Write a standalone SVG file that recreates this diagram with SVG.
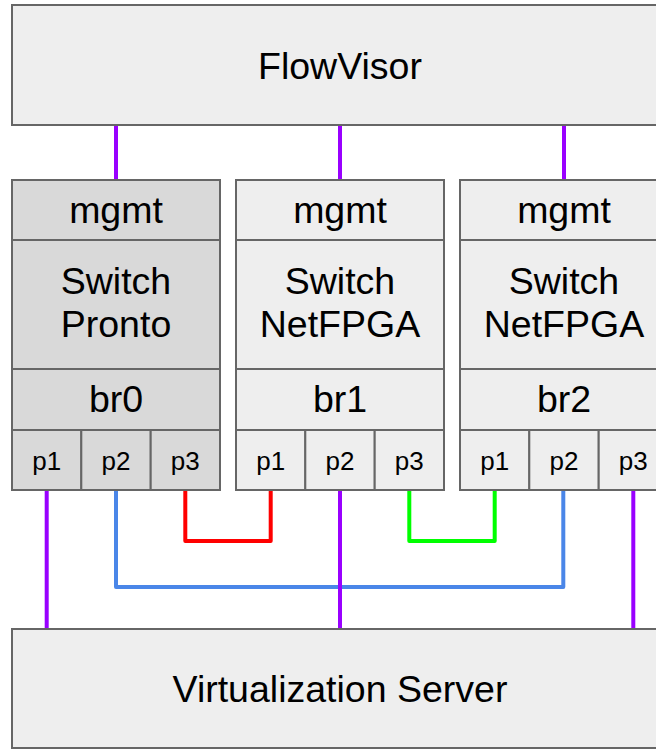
<svg xmlns="http://www.w3.org/2000/svg" width="656" height="749" viewBox="0 0 656 749">
<style>
.box{stroke:#666;stroke-width:2}
.light{fill:#eeeeee}
.dark{fill:#d9d9d9}
.big{font-family:"Liberation Sans",Arial,sans-serif;font-size:37.5px;fill:#000;text-anchor:middle}
.small{font-family:"Liberation Sans",Arial,sans-serif;font-size:26px;fill:#000;text-anchor:middle}
.ln{fill:none;stroke-width:4;stroke-linejoin:round;stroke-linecap:butt}
.purple{stroke:#9900ff}
.blue{stroke:#4a86e8}
.red{stroke:#ff0000}
.green{stroke:#00ff00}
</style>
<rect width="656" height="749" fill="#ffffff"/>
<g id="connectors">
<line class="ln purple" x1="116" y1="125" x2="116" y2="180"/>
<line class="ln purple" x1="340" y1="125" x2="340" y2="180"/>
<line class="ln purple" x1="564" y1="125" x2="564" y2="180"/>
<line class="ln purple" x1="46.7" y1="490" x2="46.7" y2="629"/>
<polyline class="ln blue" points="116,490 116,587 563.3,587 563.3,490"/>
<polyline class="ln red" points="185.3,490 185.3,541 270.7,541 270.7,490"/>
<line class="ln purple" x1="340" y1="490" x2="340" y2="629"/>
<polyline class="ln green" points="409.3,490 409.3,541 494.7,541 494.7,490"/>
<line class="ln purple" x1="633.3" y1="490" x2="633.3" y2="629"/>
</g>
<g id="flowvisor">
<rect class="box light" x="12" y="5" width="656" height="120"/>
<text class="big" x="340" y="79">FlowVisor</text>
</g>
<g id="switch0">
<rect class="box dark" x="12" y="180" width="208" height="60"/>
<rect class="box dark" x="12" y="240" width="208" height="129"/>
<rect class="box dark" x="12" y="369" width="208" height="61"/>
<rect class="box dark" x="12" y="430" width="69.3" height="60"/>
<rect class="box dark" x="81.3" y="430" width="69.4" height="60"/>
<rect class="box dark" x="150.7" y="430" width="69.3" height="60"/>
<text class="big" x="116" y="223">mgmt</text>
<text class="big" x="116" y="294">Switch</text>
<text class="big" x="116" y="337">Pronto</text>
<text class="big" x="116" y="412">br0</text>
<text class="small" x="46.7" y="470">p1</text>
<text class="small" x="116" y="470">p2</text>
<text class="small" x="185.3" y="470">p3</text>
</g>
<g id="switch1">
<rect class="box light" x="236" y="180" width="208" height="60"/>
<rect class="box light" x="236" y="240" width="208" height="129"/>
<rect class="box light" x="236" y="369" width="208" height="61"/>
<rect class="box light" x="236" y="430" width="69.3" height="60"/>
<rect class="box light" x="305.3" y="430" width="69.4" height="60"/>
<rect class="box light" x="374.7" y="430" width="69.3" height="60"/>
<text class="big" x="340" y="223">mgmt</text>
<text class="big" x="340" y="294">Switch</text>
<text class="big" x="340" y="337">NetFPGA</text>
<text class="big" x="340" y="412">br1</text>
<text class="small" x="270.7" y="470">p1</text>
<text class="small" x="340" y="470">p2</text>
<text class="small" x="409.3" y="470">p3</text>
</g>
<g id="switch2">
<rect class="box light" x="460" y="180" width="208" height="60"/>
<rect class="box light" x="460" y="240" width="208" height="129"/>
<rect class="box light" x="460" y="369" width="208" height="61"/>
<rect class="box light" x="460" y="430" width="69.3" height="60"/>
<rect class="box light" x="529.3" y="430" width="69.4" height="60"/>
<rect class="box light" x="598.7" y="430" width="69.3" height="60"/>
<text class="big" x="564" y="223">mgmt</text>
<text class="big" x="564" y="294">Switch</text>
<text class="big" x="564" y="337">NetFPGA</text>
<text class="big" x="564" y="412">br2</text>
<text class="small" x="494.7" y="470">p1</text>
<text class="small" x="564" y="470">p2</text>
<text class="small" x="633.3" y="470">p3</text>
</g>
<g id="virtualization-server">
<rect class="box light" x="12" y="629" width="656" height="119"/>
<text class="big" x="340" y="702">Virtualization Server</text>
</g>
</svg>
